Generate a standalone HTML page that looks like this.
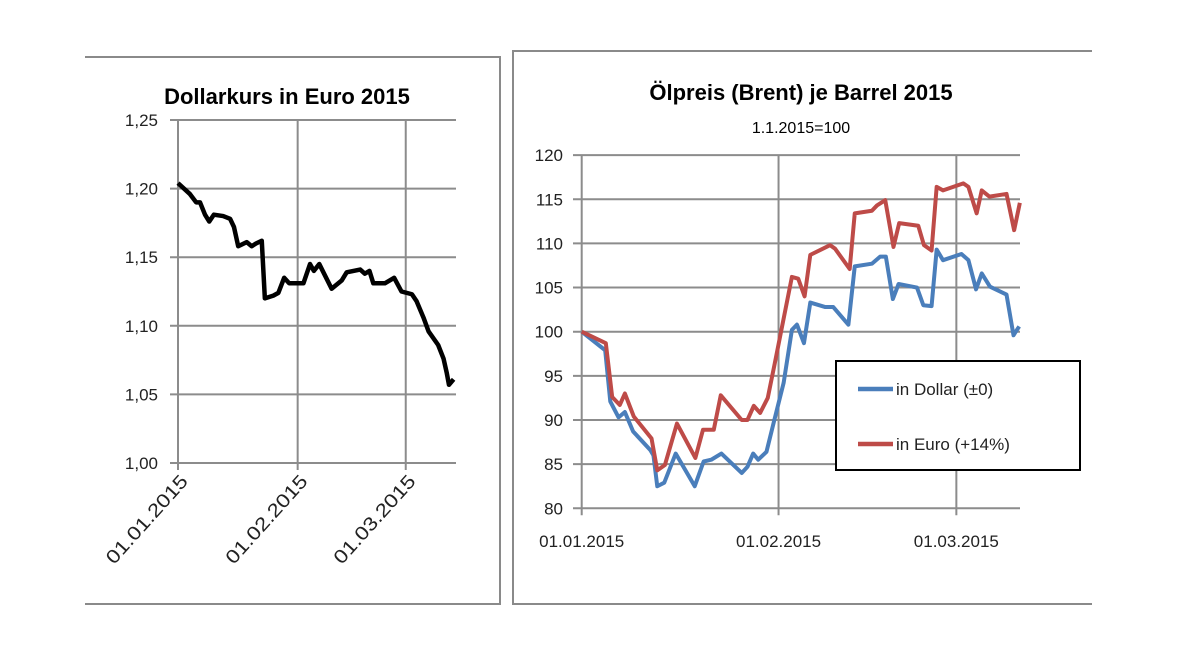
<!DOCTYPE html>
<html><head><meta charset="utf-8"><style>
html,body{margin:0;padding:0;background:#fff;}
svg text{font-family:"Liberation Sans",sans-serif;}
</style></head><body>
<svg width="1180" height="664" viewBox="0 0 1180 664" xmlns="http://www.w3.org/2000/svg">
<rect x="0" y="0" width="1180" height="664" fill="#fff"/>
<path d="M85,57 H500 V604 H85" fill="none" stroke="#8a8a8a" stroke-width="2"/>
<path d="M1092,51 H513 V604 H1092" fill="none" stroke="#8a8a8a" stroke-width="2"/>
<g id="left"></g>
<g id="right"></g>
</svg>
<script>
const usdDays=[0,3.1,4.7,5.7,7.0,8.1,9.3,11.7,13.5,14.5,15.6,17.8,19.1,20.2,21.7,22.5,24.7,26.0,27.5,28.8,32.5,34.2,35.2,36.6,39.8,42.4,43.7,47.2,48.4,49.6,50.6,53.6,56.0,57.9,60.6,61.8,63.6,64.9,67.4,68.8,69.6,70.2,71.4];
const usdRate=[1.204,1.196,1.190,1.190,1.181,1.176,1.181,1.180,1.178,1.172,1.158,1.161,1.158,1.160,1.162,1.120,1.122,1.124,1.135,1.131,1.131,1.145,1.140,1.145,1.127,1.133,1.139,1.141,1.138,1.140,1.131,1.131,1.135,1.125,1.123,1.118,1.106,1.096,1.086,1.076,1.066,1.057,1.061];
const leftTicks=["1,00","1,05","1,10","1,15","1,20","1,25"];
const leftTickVals=[1.00,1.05,1.10,1.15,1.20,1.25];
const dateLabels=["01.01.2015","01.02.2015","01.03.2015"];
const dateDays=[0,31,59];

const blueDays=[0,3.7,4.5,5.8,6.8,8.1,10.8,11.3,11.9,13.0,14.8,17.8,19.2,20.4,22.0,25.2,26.1,27.0,27.8,29.1,30.2,31.8,33.1,33.9,35.0,36.0,38.3,39.6,42.0,43.0,45.7,47.0,47.9,49.0,49.9,52.8,53.8,55.1,55.9,56.9,59.8,60.9,62.1,63.0,64.3,66.9,68.0,68.9];
const dollarVals=[100,97.9,92.1,90.3,90.9,88.7,86.6,86.0,82.5,82.9,86.2,82.5,85.3,85.5,86.2,84.0,84.7,86.2,85.5,86.4,89.6,94.2,100.2,100.8,98.7,103.3,102.8,102.8,100.8,107.4,107.7,108.5,108.5,103.7,105.4,105.0,103.0,102.9,109.3,108.1,108.8,108.1,104.8,106.6,105.1,104.2,99.6,100.6];
const redDays=[0,3.8,4.8,6.0,6.8,8.2,11.0,11.9,13.1,15.0,17.9,19.1,20.8,21.9,25.2,26.1,27.1,28.1,29.3,30.4,33.1,34.1,35.1,36.0,39.1,39.9,42.2,43.0,45.7,46.5,47.8,49.1,50.0,53.0,53.9,55.1,55.9,56.9,60.1,60.9,62.2,63.0,64.2,66.9,68.1,69.0];
const euroVals=[100,98.7,92.6,91.7,93.0,90.4,87.9,84.3,84.9,89.6,85.7,88.9,88.9,92.8,90.0,90.0,91.6,90.8,92.5,96.4,106.2,106.0,104.0,108.7,109.8,109.4,107.1,113.4,113.7,114.3,114.9,109.6,112.3,112.0,109.8,109.2,116.4,116.0,116.8,116.4,113.4,116.0,115.3,115.6,111.5,114.6];
const rightTicks=["80","85","90","95","100","105","110","115","120"];
const rightTickVals=[80,85,90,95,100,105,110,115,120];

const NS="http://www.w3.org/2000/svg";
function mk(parent,tag,attrs,text){const e=document.createElementNS(NS,tag);for(const k in attrs)e.setAttribute(k,attrs[k]);if(text!==undefined)e.textContent=text;parent.appendChild(e);return e;}

// LEFT
const L=document.getElementById('left');
const lx=d=>178+d*3.86, ly=v=>463-(v-1.00)/0.25*343;
let t=mk(L,'text',{x:287,y:104,'text-anchor':'middle','font-size':22,'font-weight':'bold',fill:'#000'},"Dollarkurs in Euro 2015");


leftTickVals.forEach((v,i)=>{
 let g=mk(L,'line',{x1:170,x2:456,y1:ly(v),y2:ly(v),stroke:'#8c8c8c','stroke-width':2});
 
 
 let tx=mk(L,'text',{x:158,y:ly(v)+6,'text-anchor':'end','font-size':17,fill:'#222'},leftTicks[i]);
 
 
});
dateDays.forEach((d,i)=>{
 let g=mk(L,'line',{x1:lx(d),x2:lx(d),y1:ly(1.25),y2:ly(1.0)+7,stroke:'#8c8c8c','stroke-width':2});
 
 
 let tx=mk(L,'text',{x:0,y:0,'text-anchor':'end','font-size':19,fill:'#222',textLength:112,lengthAdjust:'spacingAndGlyphs',transform:`translate(${lx(d)+11},${482}) rotate(-48)`},dateLabels[i]);
 
 
});
let lp=mk(L,'polyline',{points:usdDays.map((d,i)=>lx(d)+','+ly(usdRate[i])).join(' '),fill:'none',stroke:'#000','stroke-width':4.5,'stroke-linejoin':'round'});



// RIGHT
const R=document.getElementById('right');
const rx=d=>581.7+d*6.35, ry=v=>508.3-(v-80)*8.83;
t=mk(R,'text',{x:801,y:100,'text-anchor':'middle','font-size':22,'font-weight':'bold',fill:'#000'},"Ölpreis (Brent) je Barrel 2015");


t=mk(R,'text',{x:801,y:133,'text-anchor':'middle','font-size':16,fill:'#000'},"1.1.2015=100");


rightTickVals.forEach((v,i)=>{
 let g=mk(R,'line',{x1:573,x2:1020,y1:ry(v),y2:ry(v),stroke:'#8c8c8c','stroke-width':2});
 
 
 let tx=mk(R,'text',{x:563,y:ry(v)+6,'text-anchor':'end','font-size':17,fill:'#222'},rightTicks[i]);
 
 
});
dateDays.forEach((d,i)=>{
 let g=mk(R,'line',{x1:rx(d),x2:rx(d),y1:ry(120),y2:ry(80)+7,stroke:'#8c8c8c','stroke-width':2});
 
 
 let tx=mk(R,'text',{x:rx(d),y:547,'text-anchor':'middle','font-size':17,fill:'#222'},dateLabels[i]);
 
 
});
let bp=mk(R,'polyline',{points:blueDays.map((d,i)=>rx(d)+','+ry(dollarVals[i])).join(' '),fill:'none',stroke:'#4a7ebb','stroke-width':4,'stroke-linejoin':'round'});


let rp=mk(R,'polyline',{points:redDays.map((d,i)=>rx(d)+','+ry(euroVals[i])).join(' '),fill:'none',stroke:'#be4b48','stroke-width':4,'stroke-linejoin':'round'});


let lg=mk(R,'rect',{x:836,y:361,width:244,height:109,fill:'#fff',stroke:'#000','stroke-width':2});


const legNames=["in Dollar (±0)","in Euro (+14%)"], legCols=["#4a7ebb","#be4b48"], legY=[389,444];
legNames.forEach((n,i)=>{
 let l=mk(R,'line',{x1:858,x2:893,y1:legY[i],y2:legY[i],stroke:legCols[i],'stroke-width':4.5});
 
 
 let tx=mk(R,'text',{x:896,y:legY[i]+6,'font-size':17,fill:'#222'},n);
 
 
});
</script>
</body></html>
